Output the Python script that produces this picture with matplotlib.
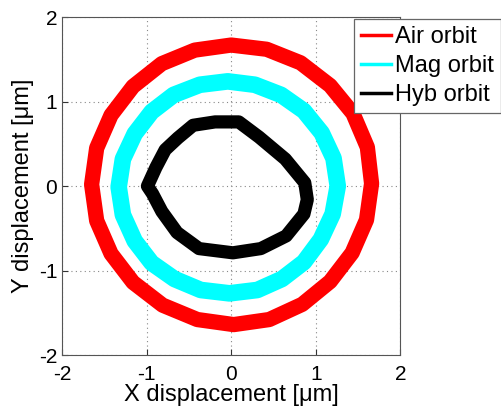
import matplotlib
matplotlib.use('Agg')
from matplotlib import pyplot as plt
from matplotlib.lines import Line2D
from matplotlib.patches import Polygon
import numpy as np

plt.rcParams['font.family'] = ['Liberation Sans', 'DejaVu Sans']
plt.rcParams['axes.unicode_minus'] = False

# orbit vertices (um), one revolution each
air_x = [0.00, -0.43, -0.82, -1.16, -1.42, -1.59, -1.65, -1.59, -1.42, -1.16, -0.81, -0.40,
         0.03, 0.45, 0.84, 1.17, 1.43, 1.60, 1.66, 1.61, 1.44, 1.17, 0.82, 0.42]
air_y = [1.67, 1.61, 1.45, 1.18, 0.84, 0.45, 0.02, -0.41, -0.80, -1.14, -1.41, -1.58,
         -1.64, -1.58, -1.40, -1.13, -0.79, -0.40, 0.03, 0.46, 0.86, 1.19, 1.46, 1.62]

mag_x = [-0.04, -0.37, -0.68, -0.94, -1.14, -1.28, -1.33, -1.28, -1.14, -0.94, -0.67, -0.36,
         -0.02, 0.31, 0.60, 0.86, 1.06, 1.20, 1.26, 1.21, 1.07, 0.86, 0.59, 0.28]
mag_y = [1.24, 1.20, 1.08, 0.88, 0.62, 0.32, -0.01, -0.34, -0.65, -0.91, -1.10, -1.23,
         -1.27, -1.23, -1.10, -0.90, -0.63, -0.33, 0.00, 0.33, 0.63, 0.89, 1.08, 1.20]

hyb_x = [-0.99, -0.89, -0.78, -0.63, -0.45, -0.19, 0.09, 0.33, 0.64, 0.87, 0.90, 0.86,
         0.65, 0.35, 0.02, -0.38, -0.64, -0.82, -0.93]
hyb_y = [0.00, 0.22, 0.43, 0.57, 0.72, 0.76, 0.76, 0.58, 0.32, 0.04, -0.16, -0.33,
         -0.59, -0.74, -0.79, -0.74, -0.55, -0.30, -0.09]

labels = ['Air orbit', 'Mag orbit', 'Hyb orbit']
colors = ['#ff0000', '#00ffff', '#000000']

fig = plt.figure(figsize=(5.02, 4.09), dpi=100)
ax = fig.add_axes([0.1235, 0.132, 0.674, 0.826])

orbits = [(air_x, air_y, 11), (mag_x, mag_y, 12), (hyb_x, hyb_y, 9.5)]
for (ox, oy, w), c in zip(orbits, colors):
    ax.add_patch(Polygon(np.column_stack([ox, oy]), closed=True, fill=False,
                         edgecolor=c, linewidth=w, joinstyle='round'))

ax.set_xlim(-2, 2)
ax.set_ylim(-2, 2)
ax.set_xticks([-2, -1, 0, 1, 2])
ax.set_yticks([-2, -1, 0, 1, 2])
ax.tick_params(direction='in', length=4, labelsize=15, colors='#333333', labelcolor='black')
ax.tick_params(axis='x', pad=7)
for s in ax.spines.values():
    s.set_color('#555555')
ax.grid(True, color='#888888', linestyle=(0, (1, 3)), linewidth=0.8)
ax.set_axisbelow(True)

ax.set_xlabel('X displacement [μm]', fontsize=17, labelpad=0)
ax.set_ylabel('Y displacement [μm]', fontsize=17, labelpad=3)

handles = [Line2D([0], [0], color=c, lw=2.5) for c in colors]
leg = fig.legend(handles, labels, loc='upper right', bbox_to_anchor=(0.998, 0.954),
                 fontsize=17, fancybox=False, framealpha=1, edgecolor='#666666',
                 handlelength=1.3, handletextpad=0.15, labelspacing=0.3,
                 borderpad=0.3, borderaxespad=0)
leg.get_frame().set_linewidth(0.9)

plt.savefig('out.png', dpi=100)
